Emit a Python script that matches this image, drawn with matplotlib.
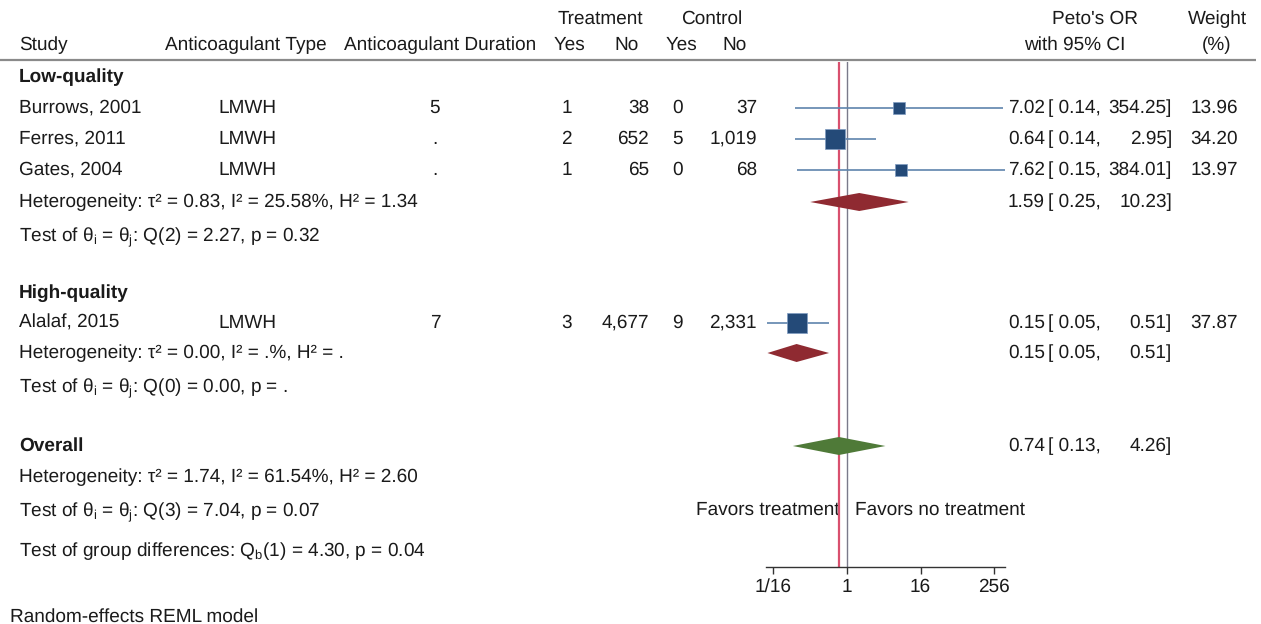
import matplotlib
matplotlib.use("Agg")
import matplotlib.pyplot as plt
import numpy as np

plt.rcParams['font.family'] = ['Liberation Sans', 'DejaVu Sans']
plt.rcParams['mathtext.fontset'] = 'custom'
plt.rcParams['mathtext.rm'] = 'Liberation Sans'
plt.rcParams['mathtext.it'] = 'Liberation Sans'
plt.rcParams['mathtext.bf'] = 'Liberation Sans:bold'
plt.rcParams['text.hinting_factor'] = 1
plt.rcParams['text.hinting'] = 'no_hinting'

# ---------------- data ----------------
studies = ["Burrows, 2001", "Ferres, 2011", "Gates, 2004", "Alalaf, 2015"]
ac_type = ["LMWH", "LMWH", "LMWH", "LMWH"]
ac_duration = ["5", ".", ".", "7"]
treat_yes = ["1", "2", "1", "3"]
treat_no = ["38", "652", "65", "4,677"]
ctrl_yes = ["0", "5", "0", "9"]
ctrl_no = ["37", "1,019", "68", "2,331"]
study_or = [7.02, 0.64, 7.62, 0.15]
study_lo = [0.14, 0.14, 0.15, 0.05]
study_hi = [354.25, 2.95, 384.01, 0.51]
weights = [13.96, 34.20, 13.97, 37.87]

summary_names = ["Low-quality", "High-quality", "Overall"]
summary_or = [1.59, 0.15, 0.74]
summary_lo = [0.25, 0.05, 0.13]
summary_hi = [10.23, 0.51, 4.26]

het_texts = [
    "Heterogeneity: τ² = 0.83, I² = 25.58%, H² = 1.34",
    "Heterogeneity: τ² = 0.00, I² = .%, H² = .",
    "Heterogeneity: τ² = 1.74, I² = 61.54%, H² = 2.60",
]
test_texts = [
    r"Test of θ$_\mathrm{i}$ = θ$_\mathrm{j}$: Q(2) = 2.27, p = 0.32",
    r"Test of θ$_\mathrm{i}$ = θ$_\mathrm{j}$: Q(0) = 0.00, p = .",
    r"Test of θ$_\mathrm{i}$ = θ$_\mathrm{j}$: Q(3) = 7.04, p = 0.07",
]
group_test = r"Test of group differences: Q$_\mathrm{b}$(1) = 4.30, p = 0.04"
xticks = [1/16, 1, 16, 256]
xticklabels = ["1/16", "1", "16", "256"]

# ---------------- layout (pixel rows) ----------------
W, H = 1261, 624
fig = plt.figure(figsize=(W/100, H/100), dpi=100)
tax = fig.add_axes([0, 0, 1, 1])
tax.set_xlim(0, W); tax.set_ylim(H, 0); tax.axis('off')

FS = 13.45
TXT = '#1a1a1a'

def t(x, y, s, ha='left', bold=False, fs=FS, va='center'):
    tax.text(x, y, s, ha=ha, va=va, fontsize=fs, color=TXT,
             fontweight='bold' if bold else 'normal')

# header
t(600, 19, "Treatment", ha='center')
t(712, 19, "Control", ha='center')
t(1095, 19, "Peto's OR", ha='center')
t(1217, 19, "Weight", ha='center')
t(19, 45, "Study")
t(165, 45, "Anticoagulant Type")
t(344, 45, "Anticoagulant Duration")
t(569, 45, "Yes", ha='center')
t(627, 45, "No", ha='center')
t(681, 45, "Yes", ha='center')
t(735, 45, "No", ha='center')
t(1075, 45, "with 95% CI", ha='center')
t(1217, 45, "(%)", ha='center')
tax.plot([0, 1256], [60, 60], color='#8a8a8a', lw=1.6, solid_capstyle='butt')

study_rows = [108, 139, 170, 323]
sum_rows = [202, 353, 446]
grp_rows = [77, 293, 446]
het_rows = [202, 353, 477]
test_rows = [235, 386, 510]

for i, y in enumerate(study_rows):
    t(19, y, studies[i])
    t(218, y, ac_type[i])
    t(435, y, ac_duration[i], ha='center')
    t(572, y, treat_yes[i], ha='right')
    t(649, y, treat_no[i], ha='right')
    t(683, y, ctrl_yes[i], ha='right')
    t(757, y, ctrl_no[i], ha='right')
    t(1045, y, f"{study_or[i]:.2f}", ha='right')
    t(1048, y, f"[ {study_lo[i]:.2f},")
    t(1172, y, f"{study_hi[i]:.2f}]", ha='right')
    t(1238, y, f"{weights[i]:.2f}", ha='right')

for i, y in enumerate(grp_rows):
    t(19, y, summary_names[i], bold=True)
for i, y in enumerate(sum_rows):
    t(1045, y, f"{summary_or[i]:.2f}", ha='right')
    t(1048, y, f"[ {summary_lo[i]:.2f},")
    t(1172, y, f"{summary_hi[i]:.2f}]", ha='right')
for i, y in enumerate(het_rows):
    t(19, y, het_texts[i])
# math lines: place by baseline so subscripts do not shift the text
for i, y in enumerate(test_rows):
    t(19, y + 6, test_texts[i], va='baseline')
t(19, 550 + 6, group_test, va='baseline')
t(840, 510, "Favors treatment", ha='right')
t(855, 510, "Favors no treatment")
t(10, 617, "Random-effects REML model")

# ---------------- forest axes ----------------
x0, x1, ytop, ybot = 766, 1005, 62, 567
fax = fig.add_axes([x0/W, (H-ybot)/H, (x1-x0)/W, (ybot-ytop)/H])
fax.patch.set_alpha(0)
fax.set_xscale('log', base=2)
fax.set_xlim(2**-4.40, 2**8.59)
fax.set_ylim(ybot, ytop)
for s in ['top', 'right', 'left']:
    fax.spines[s].set_visible(False)
fax.spines['bottom'].set_color('#333333')
fax.spines['bottom'].set_linewidth(1.0)
fax.set_yticks([])
fax.set_xticks(xticks)
fax.set_xticklabels(xticklabels, fontsize=FS, color=TXT)
fax.xaxis.set_minor_locator(matplotlib.ticker.NullLocator())
fax.tick_params(axis='x', direction='out', length=5, width=1.0, color='#333333', pad=3)

fax.axvline(1, color='#7a7a8a', lw=1.0, zorder=1)
fax.axvline(summary_or[2], color='#d9506e', lw=1.6, zorder=1)

for i, y in enumerate(study_rows):
    fax.plot([study_lo[i], study_hi[i]], [y, y], color='#5f84ad', lw=1.2, zorder=2,
             solid_capstyle='butt')
    side_pt = 3.25 * 0.72 * np.sqrt(weights[i])
    fax.scatter([study_or[i]], [y], marker='s', s=side_pt**2, color='#244a78',
                edgecolors='#7f9cc2', linewidths=0.5, zorder=3)

diamond_colors = ['#8f2a31', '#8f2a31', '#4f7a38']
for i, y in enumerate(sum_rows):
    xs = [summary_lo[i], summary_or[i], summary_hi[i], summary_or[i]]
    ys = [y, y - 9, y, y + 9]
    fax.fill(xs, ys, color=diamond_colors[i], lw=0, zorder=3)

fig.savefig("out.png", dpi=100)
